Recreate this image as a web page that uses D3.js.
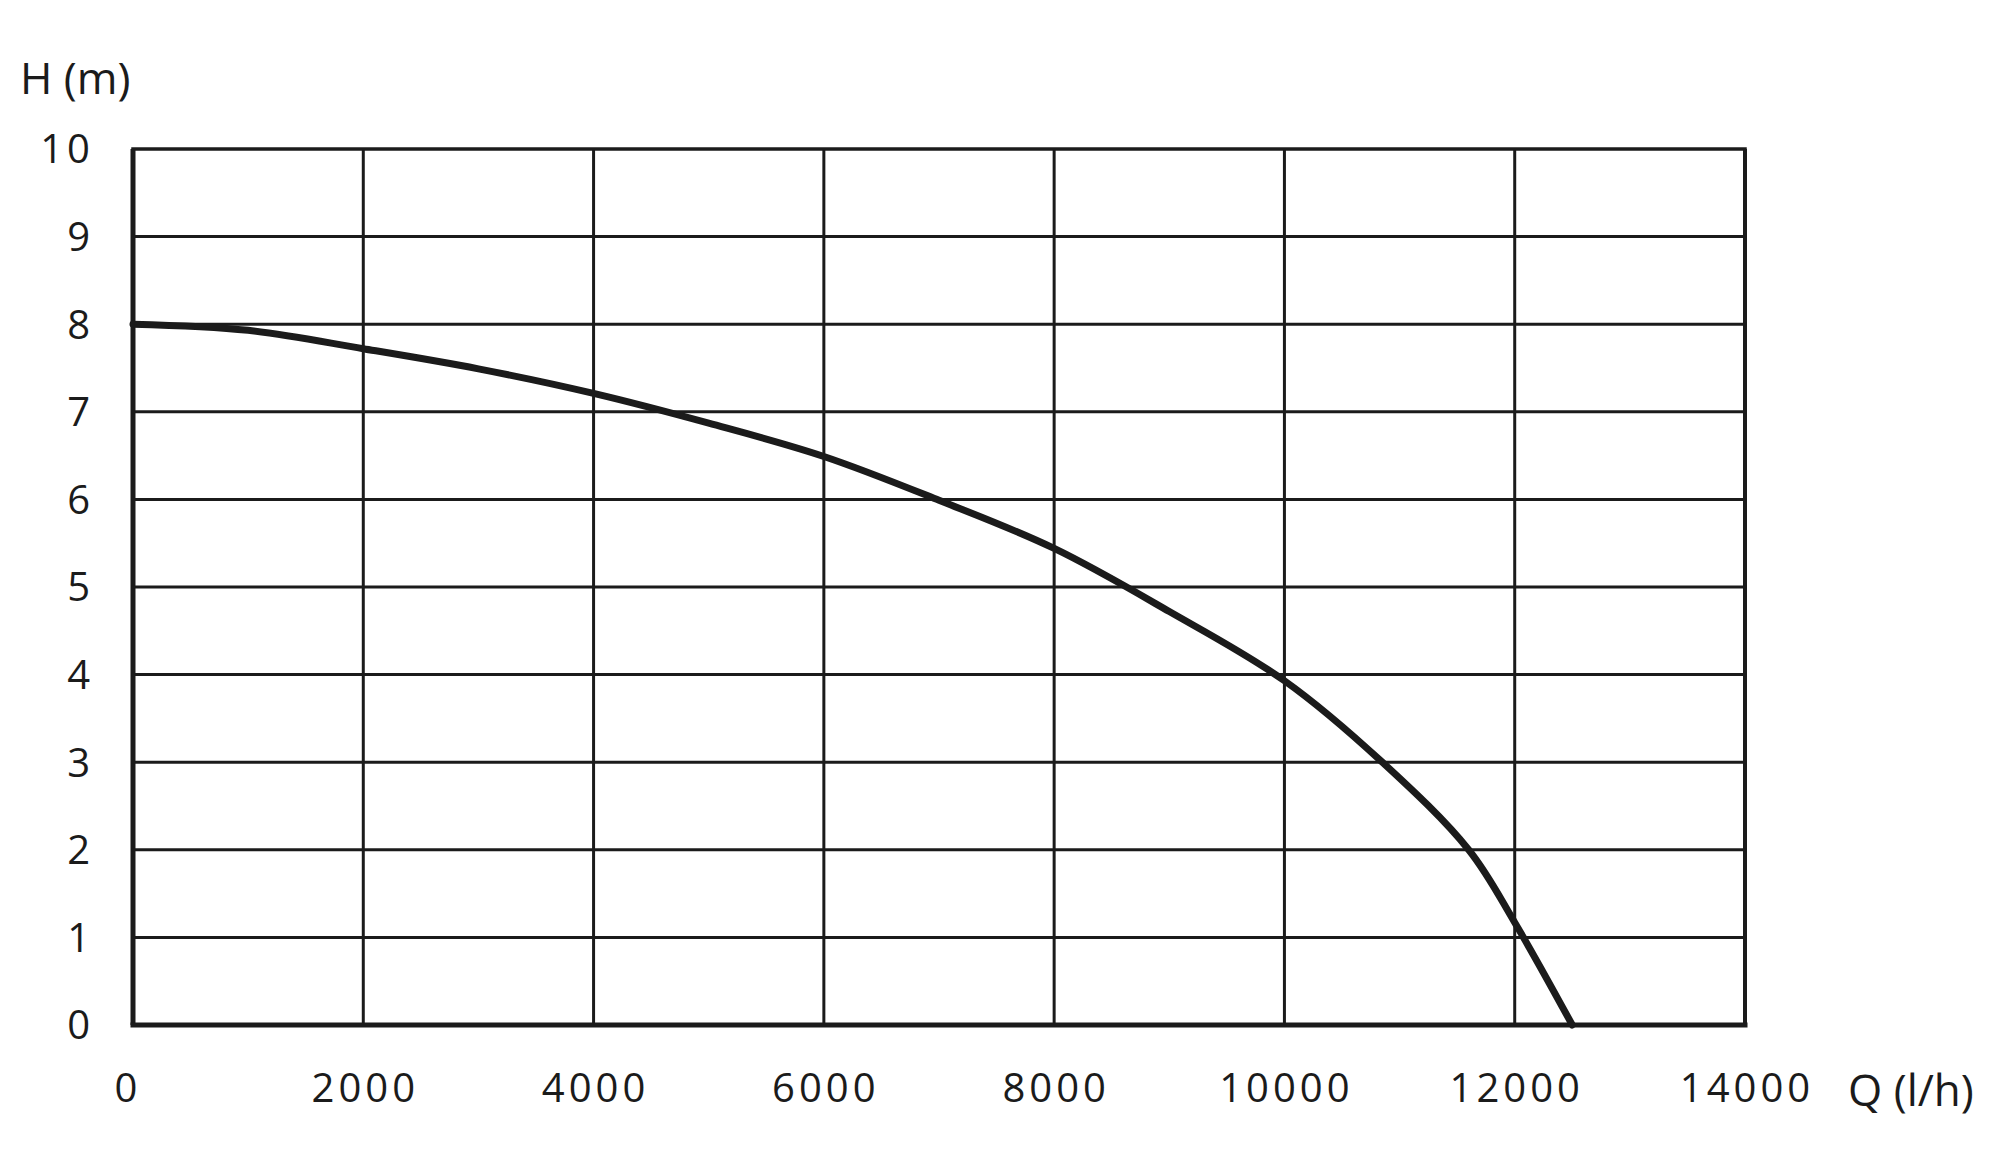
<!DOCTYPE html>
<html>
<head>
<meta charset="utf-8">
<script src="https://cdn.jsdelivr.net/npm/d3@7"></script>
<style>
    body { margin: 0; background: #fff; }
    text { font-family: "Open Sans", sans-serif; fill: #1b1b1b; }
</style>
</head>
<body>
<div id="visual"></div>
<script>
// pump curve data
const flowValues = [0, 1000, 2000, 3000, 4000, 5000, 6000, 7000, 8000, 9000, 10000, 10850, 11600, 12000, 12500];
const headValues = [8.0, 7.93, 7.72, 7.49, 7.21, 6.87, 6.49, 5.99, 5.44, 4.72, 3.93, 3.0, 2.0, 1.17, 0];
const xTicks = [0, 2000, 4000, 6000, 8000, 10000, 12000, 14000];
const yTicks = [0, 1, 2, 3, 4, 5, 6, 7, 8, 9, 10];

function pumpChart() {
    const INK = "#1b1b1b";
    const SPACING = 4;

    // set the dimensions and margins of the graph
    let width = 2000,
        height = 1174,
        margin = {top: 149, right: 255, bottom: 149, left: 133};

    let chart = function chart(selector) {
        let data = flowValues.map(function (q, i) { return {q: q, h: headValues[i]}; });

        let svg = d3.select(selector)
            .append("svg")
            .attr("width", width)
            .attr("height", height);

        let x = d3.scaleLinear()
            .domain([0, 14000])
            .range([margin.left, width - margin.right]);

        let y = d3.scaleLinear()
            .domain([0, 10])
            .range([height - margin.bottom, margin.top]);

        // grid lines
        svg.append("g")
            .selectAll("line")
            .data(xTicks)
            .enter().append("line")
            .attr("x1", function (d) { return x(d); })
            .attr("x2", function (d) { return x(d); })
            .attr("y1", y(0))
            .attr("y2", y(10))
            .style("stroke", INK)
            .style("stroke-width", function (d) { return d === 0 ? 5 : (d === 14000 ? 4 : 3); });

        svg.append("g")
            .selectAll("line")
            .data(yTicks)
            .enter().append("line")
            .attr("x1", x(0))
            .attr("x2", x(14000))
            .attr("y1", function (d) { return y(d); })
            .attr("y2", function (d) { return y(d); })
            .style("stroke", INK)
            .style("stroke-width", function (d) { return d === 0 ? 5 : (d === 10 ? 3.5 : 3); })
            .style("stroke-linecap", "square");

        // tick labels
        svg.append("g")
            .selectAll("text")
            .data(yTicks)
            .enter().append("text")
            .attr("x", 90 + SPACING)
            .attr("y", function (d) { return y(d); })
            .attr("dy", "0.36em")
            .attr("text-anchor", "end")
            .style("font-size", "40px")
            .style("letter-spacing", SPACING + "px")
            .text(function (d) { return d; });

        svg.append("g")
            .selectAll("text")
            .data(xTicks)
            .enter().append("text")
            .attr("x", function (d) { return x(d) + SPACING / 2 - (d === 0 ? 7 : 0); })
            .attr("y", 1088)
            .attr("dy", "0.36em")
            .attr("text-anchor", "middle")
            .style("font-size", "40px")
            .style("letter-spacing", SPACING + "px")
            .text(function (d) { return d; });

        // axis titles
        svg.append("text")
            .attr("x", 20)
            .attr("y", 78)
            .attr("dy", "0.36em")
            .style("font-size", "44px")
            .text("H (m)");

        svg.append("text")
            .attr("x", 1848)
            .attr("y", 1090)
            .attr("dy", "0.36em")
            .style("font-size", "44px")
            .text("Q (l/h)");

        // the curve
        let line = d3.line()
            .x(function (d) { return x(d.q); })
            .y(function (d) { return y(d.h); })
            .curve(d3.curveCatmullRom.alpha(0.5));

        svg.append("path")
            .datum(data)
            .attr("d", line)
            .style("fill", "none")
            .style("stroke", INK)
            .style("stroke-width", 7)
            .style("stroke-linecap", "round")
            .style("stroke-linejoin", "round");
    };

    return chart;
}

try {
    let myChart = pumpChart();
    myChart("#visual");
} catch (err) {
    console.log(err);
}
</script>
</body>
</html>
